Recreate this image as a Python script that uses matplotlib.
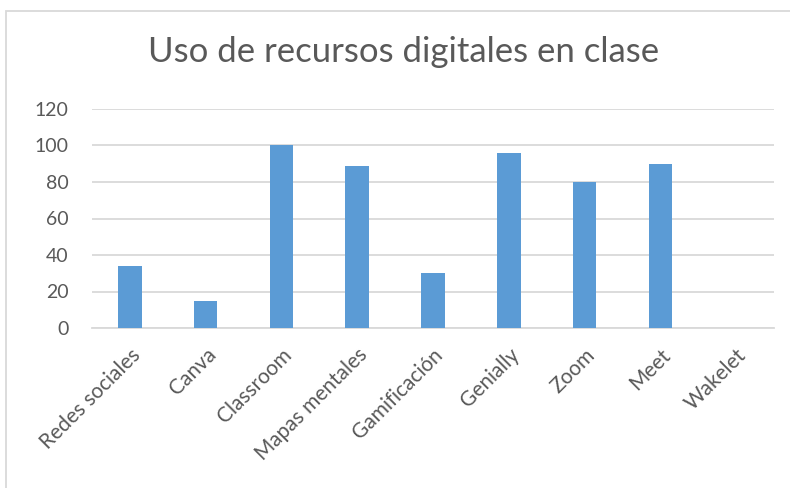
import matplotlib
matplotlib.use("Agg")
import matplotlib.pyplot as plt
from matplotlib.patches import Rectangle

categories = ["Redes sociales", "Canva", "Classroom", "Mapas mentales", "Gamificación",
              "Genially", "Zoom", "Meet", "Wakelet"]
values = [34, 15, 100, 89, 30, 96, 80, 90, 0]
yticks = [0, 20, 40, 60, 80, 100, 120]

plt.rcParams['font.family'] = ['Lato', 'DejaVu Sans']
txt = '#595959'

fig = plt.figure(figsize=(7.9, 4.88), dpi=100)
fig.patches.append(Rectangle((5.5/790, -0.1), 1.1, 1 - 10.5/488 + 0.1,
                             transform=fig.transFigure, fill=False,
                             edgecolor='#D9D9D9', linewidth=1.3))
ax = fig.add_axes([92/790, 1 - 328/488, (774-92)/790, (328-109)/488])

x = list(range(len(categories)))
ax.bar(x, values, width=0.31, color='#5B9BD5', zorder=3)
ax.set_xlim(-0.5, len(categories) - 0.5)
ax.set_ylim(0, 120)
ax.set_yticks(yticks)
ax.set_yticklabels([str(v) for v in yticks], fontsize=14, color=txt)
ax.yaxis.grid(True, color='#D9D9D9', linewidth=1.3, zorder=0)
ax.set_axisbelow(True)
for s in ['top', 'right', 'left']:
    ax.spines[s].set_visible(False)
ax.spines['bottom'].set_color('#D9D9D9')
ax.spines['bottom'].set_linewidth(1.3)
ax.tick_params(axis='y', length=0, pad=17)
ax.tick_params(axis='x', length=0, pad=12)
ax.set_xticks(x)
ax.set_xticklabels(categories, rotation=45, ha='right', rotation_mode='anchor',
                   fontsize=15, color=txt)

fig.text(404/790, 1 - 52/488, "Uso de recursos digitales en clase", ha='center', va='center',
         fontsize=25, color=txt)

fig.savefig("out.png", dpi=100)
